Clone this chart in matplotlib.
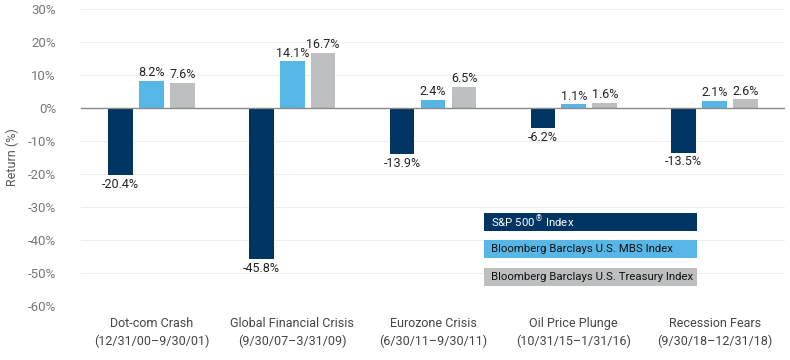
import numpy as np
import matplotlib.pyplot as plt
from matplotlib.patches import Rectangle

plt.rcParams['font.family'] = ['Roboto', 'DejaVu Sans']

# Data
events = ['Dot-com Crash', 'Global Financial Crisis', 'Eurozone Crisis',
          'Oil Price Plunge', 'Recession Fears']
periods = ['(12/31/00\u20139/30/01)', '(9/30/07\u20133/31/09)', '(6/30/11\u20139/30/11)',
           '(10/31/15\u20131/31/16)', '(9/30/18\u201312/31/18)']
sp500 = [-20.4, -45.8, -13.9, -6.2, -13.5]
mbs = [8.2, 14.1, 2.4, 1.1, 2.1]
treasury = [7.6, 16.7, 6.5, 1.6, 2.6]
series_names = ['S&P 500$^{\u00ae}$ Index', 'Bloomberg Barclays U.S. MBS Index',
                'Bloomberg Barclays U.S. Treasury Index']
colors = ['#003462', '#56B7E6', '#BCBEC0']
yticks = [30, 20, 10, 0, -10, -20, -30, -40, -50, -60]

fig = plt.figure(figsize=(7.9, 3.6), dpi=100)
ax = fig.add_axes([81/790, 1 - 306/360, 704/790, 297/360])

x = np.arange(len(events))
w = 0.175
step = 0.22
for i, (vals, c) in enumerate(zip([sp500, mbs, treasury], colors)):
    pos = x + (i - 1) * step
    ax.bar(pos, vals, width=w, color=c, zorder=3)
    for p, v in zip(pos, vals):
        if v >= 0:
            ax.text(p, v + 0.5, f'{v:.1f}%', ha='center', va='bottom',
                    fontsize=9, color='#222222')
        else:
            ax.text(p, v - 0.8, f'{v:.1f}%', ha='center', va='top',
                    fontsize=9, color='#222222')

ax.set_xlim(-0.5, len(events) - 0.5)
ax.set_ylim(-60, 30)
ax.set_yticks(yticks)
ax.set_yticklabels([f'{t}%' for t in yticks], fontsize=9.5, color='#777777')
ax.grid(axis='y', color='#EEEEEE', linewidth=0.8, zorder=0)
ax.axhline(0, color='#8A8A8A', linewidth=1, zorder=4)
ax.set_xticks(x)
ax.set_xticklabels(['' for _ in events])
ax.tick_params(length=0, pad=18)
for s in ax.spines.values():
    s.set_visible(False)
ax.set_ylabel('Return (%)', fontsize=9, color='#555555', labelpad=6)

for xi, ev, pr in zip(x, events, periods):
    ax.text(xi, -65.3, ev, ha='center', va='center', fontsize=9, color='#444444')
    ax.text(xi, -70.6, pr, ha='center', va='center', fontsize=9, color='#444444')

# legend boxes
lx0, lw_, lh = 484 / 790, 213 / 790, 18 / 360
tops = [213, 240, 268]
txt_colors = ['white', '#111111', '#111111']
for name, c, t, tc in zip(series_names, colors, tops, txt_colors):
    y0 = 1 - (t + 18) / 360
    fig.patches.append(Rectangle((lx0, y0), lw_, lh, transform=fig.transFigure,
                                 facecolor=c, edgecolor='none', zorder=5))
    fig.text(lx0 + 7 / 790, y0 + lh / 2, name, ha='left', va='center',
             fontsize=8.2, color=tc, zorder=6)

fig.savefig('out.png', dpi=100)
